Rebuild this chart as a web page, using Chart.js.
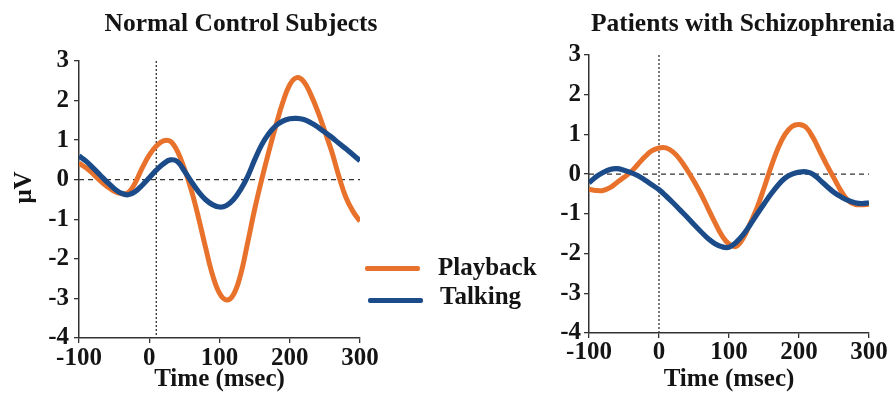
<!DOCTYPE html>
<html><head><meta charset="utf-8">
<script src="https://cdn.jsdelivr.net/npm/chart.js@4"></script>
<style>
html,body{margin:0;padding:0;background:#fff;width:895px;height:395px;overflow:hidden;position:relative;font-family:'Liberation Serif','Times New Roman',serif;}
.box{position:absolute;}
.t{position:absolute;font-weight:bold;font-size:25px;line-height:25px;white-space:nowrap;color:#141414;}
.tt{font-size:25.5px;line-height:25.5px;}
.sw{position:absolute;height:5px;border-radius:2px;}
</style></head><body>
<div class="box" style="left:0;top:0;width:400px;height:395px"><canvas id="c1"></canvas></div>
<div class="box" style="left:520px;top:0;width:375px;height:395px"><canvas id="c2"></canvas></div>
<div class="t tt" style="left:0;width:482px;text-align:center;top:10px">Normal Control Subjects</div>
<div class="t tt" style="left:543px;width:400px;text-align:center;top:10px">Patients with Schizophrenia</div>
<div class="sw" style="left:365px;top:266px;width:55px;background:#E8722C"></div>
<div class="t" style="left:438px;top:254px">Playback</div>
<div class="sw" style="left:368px;top:298px;width:55px;background:#1B4C89"></div>
<div class="t" style="left:440px;top:283px">Talking</div>
<script>
const TIME = [-100,-90,-80,-70,-60,-50,-40,-30,-20,-10,0,10,20,30,40,50,60,70,80,90,100,110,120,130,140,150,160,170,180,190,200,210,220,230,240,250,260,270,280,290,300];
const NORMAL_PLAYBACK = [0.42,0.30,0.15,-0.02,-0.17,-0.29,-0.35,-0.33,-0.08,0.30,0.62,0.85,0.98,0.97,0.72,0.28,-0.27,-0.95,-1.70,-2.40,-2.87,-3.04,-2.90,-2.40,-1.60,-0.75,0.00,0.70,1.35,1.95,2.40,2.58,2.48,2.15,1.72,1.22,0.70,0.08,-0.45,-0.80,-1.05];
const NORMAL_TALKING = [0.60,0.47,0.30,0.12,-0.06,-0.22,-0.34,-0.38,-0.30,-0.14,0.05,0.24,0.40,0.50,0.46,0.22,-0.05,-0.30,-0.50,-0.63,-0.69,-0.65,-0.50,-0.25,0.08,0.50,0.88,1.16,1.36,1.48,1.54,1.55,1.52,1.44,1.33,1.20,1.07,0.92,0.78,0.63,0.48];
const SCHIZ_PLAYBACK = [-0.38,-0.41,-0.41,-0.34,-0.21,-0.08,0.06,0.25,0.44,0.59,0.66,0.66,0.56,0.37,0.11,-0.18,-0.50,-0.86,-1.22,-1.55,-1.76,-1.82,-1.62,-1.25,-0.85,-0.35,0.18,0.65,1.00,1.20,1.25,1.18,0.92,0.57,0.22,-0.10,-0.42,-0.66,-0.76,-0.77,-0.76];
const SCHIZ_TALKING = [-0.22,-0.07,0.04,0.12,0.14,0.10,0.04,-0.04,-0.15,-0.27,-0.39,-0.55,-0.72,-0.90,-1.08,-1.27,-1.45,-1.62,-1.75,-1.83,-1.84,-1.72,-1.53,-1.28,-1.01,-0.75,-0.50,-0.28,-0.10,0.00,0.05,0.06,0.00,-0.15,-0.31,-0.46,-0.57,-0.66,-0.72,-0.74,-0.72];
const X_RANGE = [-100, 300];
const Y_RANGE = [-4, 3];
const ONSET_NORMAL = 10;
const ONSET_SCHIZ = 0;
const Y_TITLE = 'μV';
const X_TITLE = 'Time (msec)';

const ORANGE = '#E8722C', BLUE = '#1B4C89', INK = '#141414';
const FONT = {family: "'Liberation Serif','Times New Roman',serif", size: 25, weight: 'bold'};

const yTitlePlugin = {
  id: 'yTitle',
  afterDraw(chart, args, o) {
    if (!o.text) return;
    const ctx = chart.ctx, a = chart.chartArea;
    ctx.save();
    ctx.translate(o.x, (a.top + a.bottom) / 2 + o.dy);
    ctx.rotate(-Math.PI / 2);
    ctx.font = "bold 25px 'Liberation Serif','Times New Roman',serif";
    ctx.fillStyle = INK;
    ctx.textAlign = 'center';
    ctx.textBaseline = 'middle';
    ctx.fillText(o.text, 0, 0);
    ctx.restore();
  }
};

function pts(vals) { return TIME.map((t, i) => ({x: t, y: vals[i]})); }

function makeChart(id, playback, talking, onset, L) {
  return new Chart(document.getElementById(id), {
    type: 'line',
    data: {
      datasets: [
        {label: 'Talking', data: pts(talking), borderColor: BLUE, borderWidth: 5.2, tension: 0.4},
        {label: 'Playback', data: pts(playback), borderColor: ORANGE, borderWidth: 5, tension: 0.4},
        {label: 'zero', data: [{x: X_RANGE[0], y: 0}, {x: X_RANGE[1], y: 0}], borderColor: '#333', borderWidth: 1.3, borderDash: [5, 4]},
        {label: 'onset', data: [{x: onset, y: Y_RANGE[1]}, {x: onset, y: Y_RANGE[0]}], borderColor: '#333', borderWidth: 1.3, borderDash: [2, 2]}
      ]
    },
    options: {
      animation: false, responsive: true, maintainAspectRatio: false,
      layout: {padding: {top: L.top, right: L.right, left: 0, bottom: 0}},
      elements: {point: {radius: 0}, line: {capBezierPoints: true}},
      plugins: {legend: {display: false}, tooltip: {enabled: false}, title: {display: false},
        yTitle: {text: L.yTitle, x: 25, dy: -12}},
      scales: {
        x: {type: 'linear', min: X_RANGE[0], max: X_RANGE[1],
          ticks: {stepSize: 100, font: FONT, color: INK, padding: L.xPad, maxRotation: 0},
          grid: {drawOnChartArea: false, drawTicks: true, tickLength: 5, color: '#333', lineWidth: 1.3},
          border: {display: true, color: '#333', width: 1.5},
          title: {display: true, text: X_TITLE, font: FONT, color: INK, padding: {top: 0, bottom: L.xTitlePad}},
          afterFit(s) { s.height = L.xH; }
        },
        y: {min: Y_RANGE[0], max: Y_RANGE[1],
          ticks: {stepSize: 1, font: FONT, color: INK, padding: L.yPad},
          grid: {drawOnChartArea: false, drawTicks: true, tickLength: 5, color: '#333', lineWidth: 1.3},
          border: {display: true, color: '#333', width: 1.5},
          afterFit(s) { s.width = L.yW; }
        }
      }
    },
    plugins: [yTitlePlugin]
  });
}

makeChart('c1', NORMAL_PLAYBACK, NORMAL_TALKING, ONSET_NORMAL,
  {top: 61, right: 40, yW: 79, xH: 57, xPad: 1, yPad: 5, xTitlePad: 0, yTitle: Y_TITLE});
makeChart('c2', SCHIZ_PLAYBACK, SCHIZ_TALKING, ONSET_SCHIZ,
  {top: 55, right: 26, yW: 69, xH: 62, xPad: 0, yPad: 3, xTitlePad: 0, yTitle: ''});
</script>
</body></html>
